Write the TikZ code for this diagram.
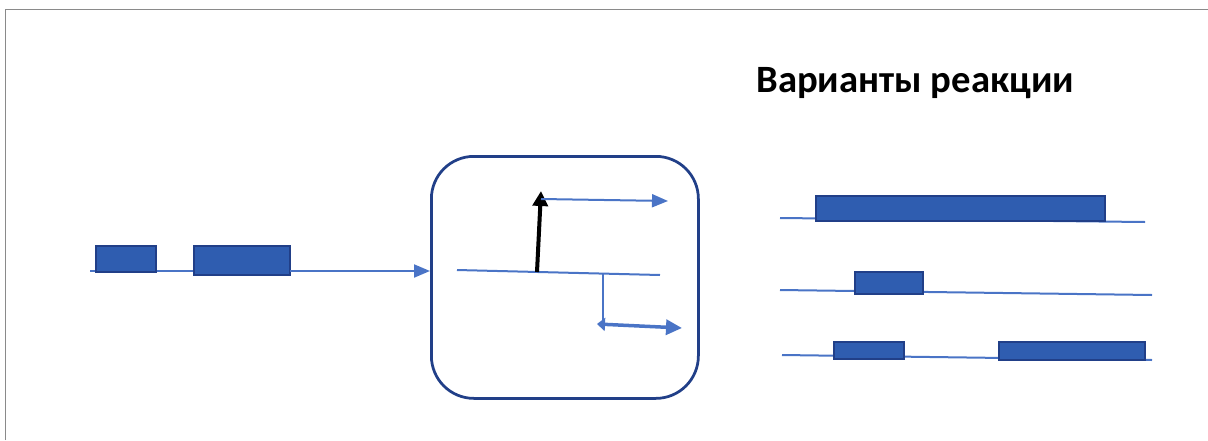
\documentclass[tikz,border=0pt]{standalone}
\usepackage{fontspec}
\setmainfont{Carlito}
\usetikzlibrary{arrows.meta,positioning}
\definecolor{exonfill}{HTML}{2F5DB0}
\definecolor{exonedge}{HTML}{213F88}
\definecolor{strand}{HTML}{4A74C6}
\definecolor{framegray}{HTML}{8A8A8A}
\newcommand{\exonbox}[5]{%
  \node[exon,minimum width=#4*0.02cm,minimum height=#5*0.02cm] (#1) at (#2,#3) {};}
\begin{document}
\begin{tikzpicture}[x=0.02cm,y=-0.02cm]
        \tikzset{
          exon/.style={draw=exonedge,fill=exonfill,line width=0.35mm,anchor=north west,inner sep=0mm},
          strandline/.style={strand,line width=0.4mm},
          strandarrow/.style={strand,line width=0.4mm,-{Triangle[length=3.2mm,width=2.6mm]}},
        }
        \useasboundingbox (0,0) rectangle (1208,440);
        %FRAME
        \draw[framegray,line width=0.35mm] (5.5,440) -- (5.5,9.5) -- (1208,9.5);
        %TITLE
        \node[font=\bfseries\fontsize{22}{26}\selectfont,anchor=west,inner sep=0mm] (title) at (756,83) {Варианты реакции};

        %PRE-MRNA
        \coordinate (pre-start) at (90,271);
        \draw[strandline] (pre-start) -- (290,271);
        \exonbox{pre1}{95}{245}{60}{26}
        \exonbox{pre2}{193}{245}{96}{29}

        %SPLICING BOX
        \node[draw=exonedge,line width=0.55mm,rounded corners=0.85cm,anchor=north west,
              minimum width=267*0.02cm,minimum height=242*0.02cm] (splice) at (430,155) {};
        \coordinate (pre-end) at (290,271);
        \draw[strandarrow] (pre-end) -- (splice.west |- pre-end);

        \coordinate (main-l) at (457,270);
        \coordinate (main-r) at (660,275);
        \draw[strandline] (main-l) -- (main-r);
        \coordinate (up-foot) at (537,272);
        \coordinate (up-top) at (541,191);
        \draw[black,line width=0.8mm,-{Triangle[length=3mm,width=3mm]}] (up-foot) -- (up-top);
        \coordinate (top-l) at (541,199);
        \coordinate (top-r) at (668,201);
        \draw[strandarrow] (top-l) -- (top-r);
        \coordinate (down-top) at (603,274);
        \coordinate (down-foot) at (603,322);
        \draw[strandline] (down-top) -- (down-foot);
        \coordinate (low-l) at (597,324);
        \coordinate (low-r) at (682,328);
        \draw[strand,line width=0.7mm,{Triangle[length=1.6mm,width=2.6mm]}-{Triangle[length=3.2mm,width=3mm]}] (low-l) -- (low-r);

        %VARIANTS
        \draw[strandline] (780,218) -- (1145,222);
        \exonbox{var1a}{815}{195}{289}{25}

        \draw[strandline] (780,290) -- (1152,295);
        \exonbox{var2a}{854}{271}{68}{22}

        \draw[strandline] (782,355) -- (1152,360);
        \exonbox{var3a}{833}{341}{70}{17}
        \exonbox{var3b}{998}{341}{146}{18}
    \end{tikzpicture}
\end{document}
